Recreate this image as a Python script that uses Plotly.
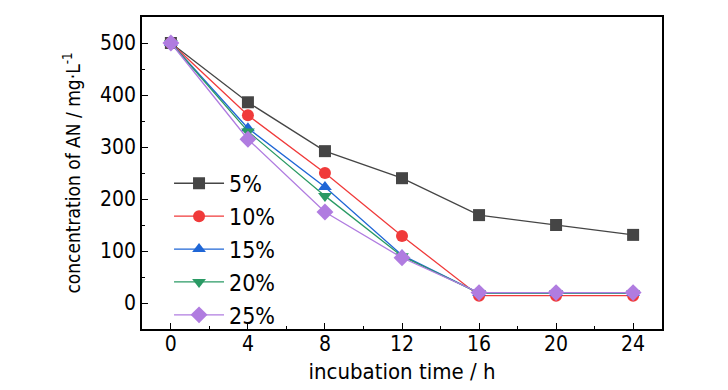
import plotly.graph_objects as go

time_h = [0, 4, 8, 12, 16, 20, 24]
series_names = ["5%", "10%", "15%", "20%", "25%"]
conc_5 = [500, 386, 292, 240, 169, 150, 131]
conc_10 = [500, 361, 250, 129, 14, 14, 14]
conc_15 = [500, 336, 223, 92, 19, 19, 19]
conc_20 = [500, 330, 206, 90, 19, 19, 19]
conc_25 = [500, 315, 175, 87, 20, 20, 20]
x_ticks = [0, 4, 8, 12, 16, 20, 24]
y_ticks = [0, 100, 200, 300, 400, 500]

values = [conc_5, conc_10, conc_15, conc_20, conc_25]
colors = ["#454545", "#f03a3a", "#1f66d6", "#2a9a64", "#b07ce0"]
symbols = ["square", "circle", "triangle-up", "triangle-down", "diamond"]

FONT = "DejaVu Sans Condensed, Liberation Sans Narrow, Arial Narrow, Liberation Sans"

fig = go.Figure()
for name, ys, c, s in zip(series_names, values, colors, symbols):
    fig.add_trace(go.Scatter(
        x=time_h, y=ys, name=name, mode="lines+markers",
        legendgroup=name,
        line=dict(color=c, width=1.3),
        marker=dict(symbol=s, size=12 if s != "diamond" else 13, color=c),
    ))

axis_common = dict(
    showline=True, linecolor="black", linewidth=1.5, mirror=True,
    ticks="inside", ticklen=6, tickwidth=1.2, tickcolor="black",
    showgrid=False, zeroline=False, automargin=False,
    tickfont=dict(family=FONT, size=21, color="black"),
)
fig.update_xaxes(
    range=[-1.5, 25.5], tickvals=x_ticks, ticklabelstandoff=-5,
    minor=dict(ticks="inside", ticklen=3, dtick=2, tick0=0, tickcolor="black"),
    title=dict(text="incubation time / h", font=dict(family=FONT, size=22, color="black"), standoff=9),
    **axis_common,
)
fig.update_yaxes(
    range=[-50, 550], tickvals=y_ticks,
    minor=dict(ticks="inside", ticklen=3, dtick=50, tick0=0, tickcolor="black"),
    title=dict(text="concentration of AN / mg·L<sup>-1</sup>", font=dict(family=FONT, size=19, color="black"), standoff=14),
    **axis_common,
)
fig.update_layout(
    width=720, height=382,
    margin=dict(l=134, r=66, t=9, b=61),
    paper_bgcolor="white", plot_bgcolor="white",
    font=dict(family=FONT, color="black"),
    legend=dict(
        x=0.052, y=-0.025, xanchor="left", yanchor="bottom",
        bgcolor="rgba(0,0,0,0)", font=dict(family=FONT, size=23, color="black"),
        tracegroupgap=0, itemwidth=50,
    ),
    showlegend=True,
)
fig.write_html("out.html")
